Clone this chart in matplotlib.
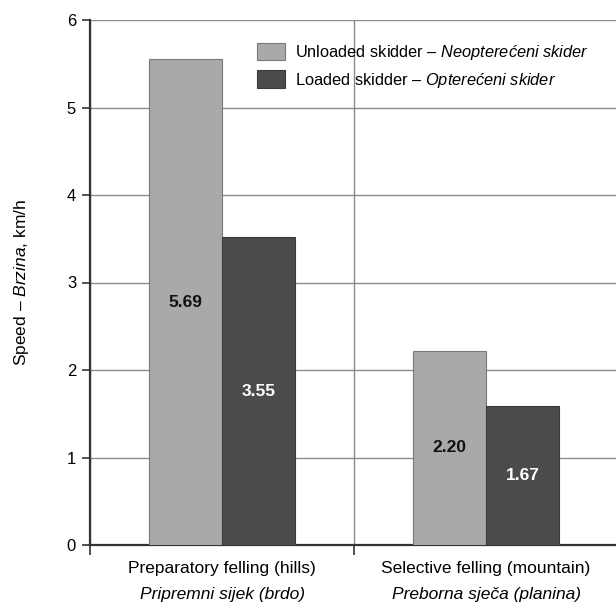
import numpy as np
import matplotlib.pyplot as plt
from matplotlib import font_manager

# pick a narrow sans if it is there
names = {f.name for f in font_manager.fontManager.ttflist}
FONT = 'Liberation Sans Narrow' if 'Liberation Sans Narrow' in names else 'Liberation Sans'

plt.rcParams['font.family'] = [FONT, 'DejaVu Sans']
plt.rcParams['mathtext.fontset'] = 'custom'
plt.rcParams['mathtext.rm'] = FONT
plt.rcParams['mathtext.it'] = FONT + ':italic'
plt.rcParams['mathtext.bf'] = FONT + ':bold'

# data
categories = ['Preparatory felling (hills)', 'Selective felling (mountain)']
categories_hr = ['Pripremni sijek (brdo)', 'Preborna sječa (planina)']
unloaded = [5.55, 2.22]
loaded = [3.52, 1.59]
unloaded_txt = ['5.69', '2.20']
loaded_txt = ['3.55', '1.67']
series = ['Unloaded skidder – $\\mathit{Neopterećeni\\ skider}$',
          'Loaded skidder – $\\mathit{Opterećeni\\ skider}$']

fig = plt.figure(figsize=(6.16, 6.10), dpi=100)
ax = fig.add_axes([90/616, 65/610, 528/616, 525/610])

x = np.arange(len(categories))
w = 0.277
b1 = ax.bar(x - w/2, unloaded, w, color='#a9a9a9', edgecolor='#7a7a7a', linewidth=0.8,
            label=series[0], zorder=3)
b2 = ax.bar(x + w/2, loaded, w, color='#4b4b4b', edgecolor='#3a3a3a', linewidth=0.8,
            label=series[1], zorder=3)
ax.bar_label(b1, labels=unloaded_txt, label_type='center', color='#111111',
             fontsize=12.5, fontweight='bold')
ax.bar_label(b2, labels=loaded_txt, label_type='center', color='white',
             fontsize=12.5, fontweight='bold')

ax.set_xlim(-0.5, 1.5)
ax.set_ylim(0, 6)
ax.set_yticks(range(0, 7))
ax.tick_params(axis='y', labelsize=12, length=6, width=1.2, color='#333333', pad=4)
ax.set_xticks([-0.5, 0.5, 1.5])
ax.set_xticklabels([])
ax.tick_params(axis='x', length=7, width=1.2, color='#333333')
ax.grid(True, color='#8c8c8c', linewidth=1.0, zorder=0)

for s in ['top', 'right']:
    ax.spines[s].set_visible(False)
for s in ['left', 'bottom']:
    ax.spines[s].set_color('#333333')
    ax.spines[s].set_linewidth(1.6)

for i in x:
    ax.text(i, -0.27, categories[i], ha='center', va='center', fontsize=12.5,
            transform=ax.transData)
    ax.text(i, -0.56, categories_hr[i], ha='center', va='center', fontsize=12.5,
            style='italic', transform=ax.transData)

ax.set_ylabel('Speed – $\\mathit{Brzina}$, km/h', fontsize=12.5)
ax.yaxis.set_label_coords(-0.112, 0.5)

ax.legend(loc='upper left', bbox_to_anchor=(0.288, 0.985), frameon=False, fontsize=11.8,
          handlelength=1.75, handleheight=1.3, handletextpad=0.6, labelspacing=0.5)

fig.savefig('out.png', dpi=100)
